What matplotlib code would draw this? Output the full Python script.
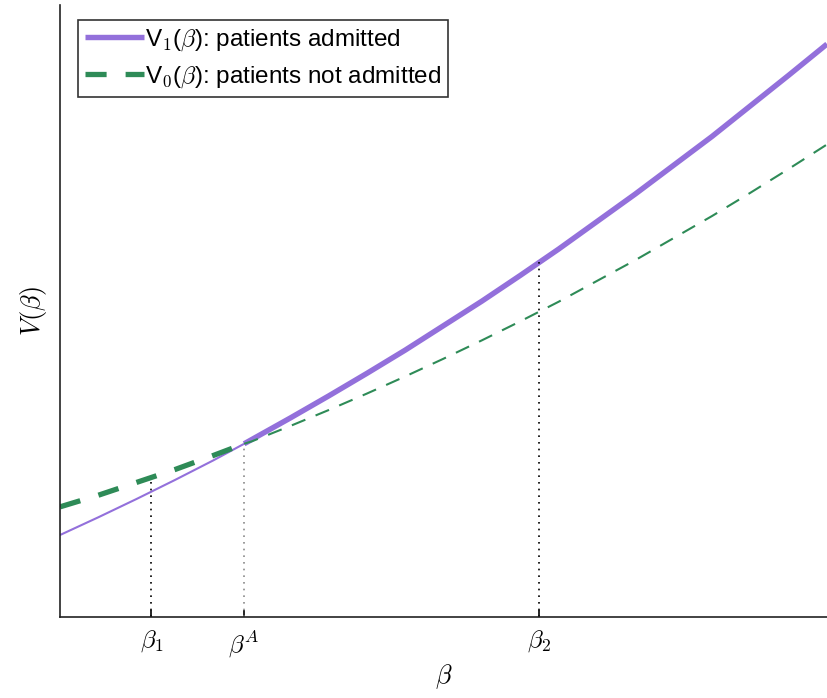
import matplotlib
matplotlib.use("Agg")
import matplotlib.pyplot as plt
import numpy as np

plt.rcParams['mathtext.fontset'] = 'cm'
plt.rcParams['font.family'] = ['Liberation Sans', 'DejaVu Sans']

beta = [0.00, 0.05, 0.10, 0.15, 0.20, 0.24, 0.25, 0.30, 0.35, 0.40, 0.45, 0.50,
        0.55, 0.60, 0.65, 0.70, 0.75, 0.80, 0.85, 0.90, 0.95, 1.00]
v1 = [0.134, 0.163, 0.193, 0.224, 0.256, 0.283, 0.290, 0.325, 0.361, 0.398, 0.436, 0.476,
      0.516, 0.558, 0.601, 0.646, 0.691, 0.738, 0.785, 0.835, 0.885, 0.936]
v0 = [0.180, 0.199, 0.220, 0.241, 0.264, 0.283, 0.287, 0.312, 0.338, 0.365, 0.393, 0.422,
      0.452, 0.483, 0.515, 0.549, 0.583, 0.619, 0.655, 0.693, 0.732, 0.772]

tick_pos = [0.119, 0.24, 0.624]
tick_labels = [r'$\beta_1$', r'$\beta^A$', r'$\beta_2$']
# heights of the dotted guide lines
guide_tops = [0.229, 0.283, 0.583]
guide_colors = ['black', '#8a8a8a', 'black']
beta_A = 0.24

purple = '#9370DB'
green = '#2E8B57'

fig = plt.figure(figsize=(8.27, 6.98), dpi=100)
ax = fig.add_axes([0.0726, 0.116, 0.9274, 0.877])

b = np.array(beta); y1 = np.array(v1); y0 = np.array(v0)
lo = b <= beta_A + 1e-9
hi = b >= beta_A - 1e-9

# V1: thin before beta^A, thick after
ax.plot(b[lo], y1[lo], color=purple, lw=1.5, solid_capstyle='butt')
l1, = ax.plot(b[hi], y1[hi], color=purple, lw=3.9, solid_capstyle='butt')
# V0: thick dashed before beta^A, thin dashed after
l0, = ax.plot(b[lo], y0[lo], color=green, lw=3.8, dashes=(4.0, 3.6))
ax.plot(b[hi], y0[hi], color=green, lw=1.5, dashes=(7, 5.3))

for x, top, c in zip(tick_pos, guide_tops, guide_colors):
    ax.plot([x, x], [0, top], color=c, lw=1.2, linestyle=(0, (1, 3)))

ax.set_xlim(0, 1)
ax.set_ylim(0, 1)
ax.set_xticks(tick_pos)
ax.set_xticklabels(tick_labels, fontsize=18)
ax.set_yticks([])
ax.tick_params(axis='x', direction='in', length=5, width=1.2, pad=8)
for s in ['top', 'right']:
    ax.spines[s].set_visible(False)
for s in ['left', 'bottom']:
    ax.spines[s].set_linewidth(1.2)
    ax.spines[s].set_color('#222222')

ax.set_xlabel(r'$\beta$', fontsize=19, labelpad=2)
ax.set_ylabel(r'$V(\beta)$', fontsize=19, labelpad=8)

leg = ax.legend([l1, l0],
                [r'V$_{\mathsf{1}}$($\beta$): patients admitted',
                 r'V$_{\mathsf{0}}$($\beta$): patients not admitted'],
                loc='upper left', bbox_to_anchor=(0.0235, 0.975), fontsize=17.5,
                frameon=True, fancybox=False, edgecolor='black',
                handlelength=2.4, handletextpad=0.05, borderpad=0.3,
                labelspacing=0.45, borderaxespad=0)
leg.get_frame().set_linewidth(1.2)

fig.savefig('out.png', dpi=100)
